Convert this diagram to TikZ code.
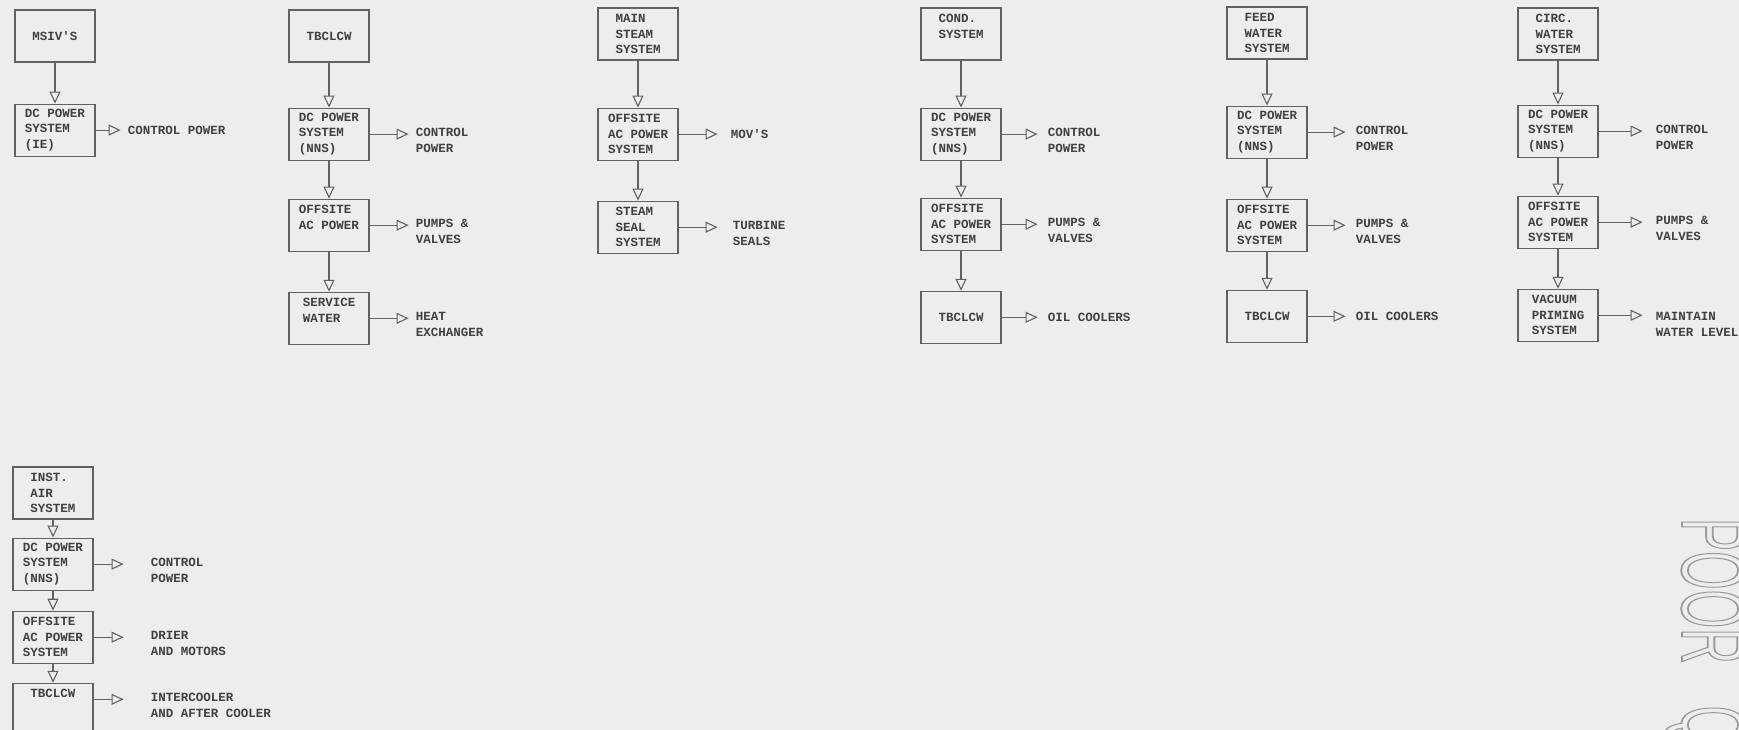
\documentclass[tikz,border=0pt]{standalone}
\usepackage{fontspec}
\setmonofont{Liberation Mono}
\newfontfamily\stampfont{Liberation Sans}
\usetikzlibrary{arrows.meta, positioning}

\tikzset{
  sysbox/.style={draw=black!62, line width=1.1pt, minimum width=80pt, minimum height=52pt,
    inner sep=2pt, align=left, text=black!75, font=\ttfamily\bfseries\fontsize{12.5}{15.5}\selectfont},
  outlbl/.style={align=left, inner sep=0pt, text=black!75, font=\ttfamily\bfseries\fontsize{12.5}{15.5}\selectfont},
  flow/.style={draw=black!62, line width=1.1pt, -{Triangle[open, length=12pt, width=11pt]}},
}

\begin{document}
\begin{tikzpicture}[x=1pt, y=1pt]
    \useasboundingbox[fill=black!7] (0,0) rectangle (1739,-730);
    % Nodes
    \node[sysbox] (msiv) at (55,-36) {MSIV'S};
    \node[sysbox, below=41pt of msiv] (dc1) {DC POWER\\SYSTEM\\(IE)};

    \node[sysbox] (tbc2) at (329,-36) {TBCLCW};
    \node[sysbox, below=45pt of tbc2] (dc2) {DC POWER\\SYSTEM\\(NNS)};
    \node[sysbox, below=38pt of dc2] (ac2) {OFFSITE\\AC POWER\\~};
    \node[sysbox, below=40pt of ac2] (sw2) {SERVICE\\WATER\\~};

    \node[sysbox] (ms3) at (638,-34) {MAIN\\STEAM\\SYSTEM};
    \node[sysbox, below=47pt of ms3] (ac3) {OFFSITE\\AC POWER\\SYSTEM};
    \node[sysbox, below=40pt of ac3] (seal3) {STEAM\\SEAL\\SYSTEM};

    \node[sysbox] (cond4) at (961,-34) {COND.\\SYSTEM\\~};
    \node[sysbox, below=47pt of cond4] (dc4) {DC POWER\\SYSTEM\\(NNS)};
    \node[sysbox, below=37pt of dc4] (ac4) {OFFSITE\\AC POWER\\SYSTEM};
    \node[sysbox, below=40pt of ac4] (tbc4) {TBCLCW};

    \node[sysbox] (fw5) at (1267,-33) {FEED\\WATER\\SYSTEM};
    \node[sysbox, below=46pt of fw5] (dc5) {DC POWER\\SYSTEM\\(NNS)};
    \node[sysbox, below=40pt of dc5] (ac5) {OFFSITE\\AC POWER\\SYSTEM};
    \node[sysbox, below=38pt of ac5] (tbc5) {TBCLCW};

    \node[sysbox] (cw6) at (1558,-34) {CIRC.\\WATER\\SYSTEM};
    \node[sysbox, below=44pt of cw6] (dc6) {DC POWER\\SYSTEM\\(NNS)};
    \node[sysbox, below=38pt of dc6] (ac6) {OFFSITE\\AC POWER\\SYSTEM};
    \node[sysbox, below=40pt of ac6] (vac6) {VACUUM\\PRIMING\\SYSTEM};

    \node[sysbox] (ia7) at (53,-493) {INST.\\AIR\\SYSTEM};
    \node[sysbox, below=18pt of ia7] (dc7) {DC POWER\\SYSTEM\\(NNS)};
    \node[sysbox, below=20pt of dc7] (ac7) {OFFSITE\\AC POWER\\SYSTEM};
    \node[sysbox, below=19pt of ac7] (tbc7) {TBCLCW\\~\\~};

    % Outputs
    \node[outlbl, right=32pt of dc1] (ctl1) {CONTROL POWER};
    \node[outlbl, right=46pt of dc2, anchor=north west, yshift=6pt] (ctl2) {CONTROL\\POWER};
    \node[outlbl, right=46pt of ac2, anchor=north west, yshift=6pt] (pv2) {PUMPS \&\\VALVES};
    \node[outlbl, right=46pt of sw2, anchor=north west, yshift=6pt] (hx2) {HEAT\\EXCHANGER};
    \node[outlbl, right=52pt of ac3] (mov3) {MOV'S};
    \node[outlbl, right=54pt of seal3, anchor=north west, yshift=6pt] (ts3) {TURBINE\\SEALS};
    \node[outlbl, right=46pt of dc4, anchor=north west, yshift=6pt] (ctl4) {CONTROL\\POWER};
    \node[outlbl, right=46pt of ac4, anchor=north west, yshift=6pt] (pv4) {PUMPS \&\\VALVES};
    \node[outlbl, right=46pt of tbc4] (oc4) {OIL COOLERS};
    \node[outlbl, right=48pt of dc5, anchor=north west, yshift=6pt] (ctl5) {CONTROL\\POWER};
    \node[outlbl, right=48pt of ac5, anchor=north west, yshift=6pt] (pv5) {PUMPS \&\\VALVES};
    \node[outlbl, right=48pt of tbc5] (oc5) {OIL COOLERS};
    \node[outlbl, right=57pt of dc6, anchor=north west, yshift=6pt] (ctl6) {CONTROL\\POWER};
    \node[outlbl, right=57pt of ac6, anchor=north west, yshift=6pt] (pv6) {PUMPS \&\\VALVES};
    \node[outlbl, right=57pt of vac6, anchor=north west, yshift=3pt] (wl6) {MAINTAIN\\WATER LEVEL};
    \node[outlbl, right=57pt of dc7, anchor=north west, yshift=6pt] (ctl7) {CONTROL\\POWER};
    \node[outlbl, right=57pt of ac7, anchor=north west, yshift=6pt] (dm7) {DRIER\\AND MOTORS};
    \node[outlbl, right=57pt of tbc7, anchor=north west, yshift=16pt] (ic7) {INTERCOOLER\\AND AFTER COOLER};

    % Arrows
    \draw[flow] (msiv) -- (dc1);
    \draw[flow] (tbc2) -- (dc2);
    \draw[flow] (dc2) -- (ac2);
    \draw[flow] (ac2) -- (sw2);
    \draw[flow] (ms3) -- (ac3);
    \draw[flow] (ac3) -- (seal3);
    \draw[flow] (cond4) -- (dc4);
    \draw[flow] (dc4) -- (ac4);
    \draw[flow] (ac4) -- (tbc4);
    \draw[flow] (fw5) -- (dc5);
    \draw[flow] (dc5) -- (ac5);
    \draw[flow] (ac5) -- (tbc5);
    \draw[flow] (cw6) -- (dc6);
    \draw[flow] (dc6) -- (ac6);
    \draw[flow] (ac6) -- (vac6);
    \draw[flow] (ia7) -- (dc7);
    \draw[flow] (dc7) -- (ac7);
    \draw[flow] (ac7) -- (tbc7);

    \draw[flow, shorten >=7pt] (dc1) -- (dc1 -| ctl1.west);
    \draw[flow, shorten >=7pt] (dc2) -- (dc2 -| ctl2.west);
    \draw[flow, shorten >=7pt] (ac2) -- (ac2 -| pv2.west);
    \draw[flow, shorten >=7pt] (sw2) -- (sw2 -| hx2.west);
    \draw[flow, shorten >=13pt] (ac3) -- (ac3 -| mov3.west);
    \draw[flow, shorten >=15pt] (seal3) -- (seal3 -| ts3.west);
    \draw[flow, shorten >=10pt] (dc4) -- (dc4 -| ctl4.west);
    \draw[flow, shorten >=10pt] (ac4) -- (ac4 -| pv4.west);
    \draw[flow, shorten >=10pt] (tbc4) -- (tbc4 -| oc4.west);
    \draw[flow, shorten >=10pt] (dc5) -- (dc5 -| ctl5.west);
    \draw[flow, shorten >=10pt] (ac5) -- (ac5 -| pv5.west);
    \draw[flow, shorten >=10pt] (tbc5) -- (tbc5 -| oc5.west);
    \draw[flow, shorten >=13pt] (dc6) -- (dc6 -| ctl6.west);
    \draw[flow, shorten >=13pt] (ac6) -- (ac6 -| pv6.west);
    \draw[flow, shorten >=13pt] (vac6) -- (vac6 -| wl6.west);
    \draw[flow, shorten >=27pt] (dc7) -- (dc7 -| ctl7.west);
    \draw[flow, shorten >=27pt] (ac7) -- (ac7 -| dm7.west);
    \draw[flow, shorten >=27pt] ([yshift=10pt]tbc7.east) -- ([yshift=10pt]tbc7.east -| ic7.west);

    % Stamp
    \node[anchor=base west, rotate=-90, xscale=0.55, inner sep=0pt, text=black!40,
      font=\stampfont\fontsize{90}{90}\selectfont] (stamp) at (1682,-518)
      {\special{pdf:literal direct 1 Tr 1.8 w}POOR\hspace{76pt}Q\special{pdf:literal direct 0 Tr}};
\end{tikzpicture}
\end{document}
